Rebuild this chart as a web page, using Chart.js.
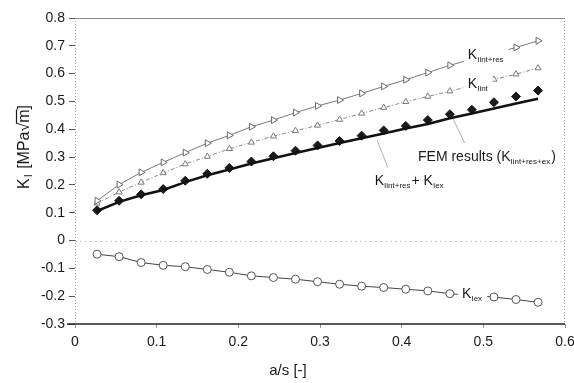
<!DOCTYPE html>
<html>
<head>
<meta charset="utf-8">
<script src="https://cdn.jsdelivr.net/npm/chart.js@4/dist/chart.umd.min.js"></script>
<style>
  html, body { margin: 0; padding: 0; background: #fff; }
  #wrap { width: 574px; height: 383px; }
</style>
</head>
<body>
<div id="wrap"><canvas id="c" width="574" height="383"></canvas></div>
<script>
// crack depth ratio a/s
const aOverS = [0.027, 0.054, 0.081, 0.108, 0.135, 0.162, 0.189, 0.216, 0.243, 0.270, 0.297,
                0.324, 0.351, 0.378, 0.405, 0.432, 0.459, 0.486, 0.513, 0.540, 0.567];

// stress intensity factors K_I [MPa·sqrt(m)]
const kIntRes = [0.143, 0.201, 0.245, 0.281, 0.316, 0.350, 0.378, 0.409, 0.433, 0.460, 0.484,
                 0.505, 0.529, 0.554, 0.578, 0.604, 0.630, 0.652, 0.673, 0.694, 0.718];
const kInt    = [0.134, 0.174, 0.209, 0.243, 0.275, 0.302, 0.330, 0.353, 0.375, 0.395, 0.414,
                 0.435, 0.457, 0.478, 0.499, 0.518, 0.537, 0.557, 0.579, 0.598, 0.620];
const kFem    = [0.109, 0.143, 0.166, 0.185, 0.215, 0.240, 0.261, 0.284, 0.303, 0.323, 0.342,
                 0.358, 0.377, 0.396, 0.412, 0.433, 0.454, 0.470, 0.497, 0.518, 0.539];
const kSum    = [0.106, 0.139, 0.163, 0.182, 0.210, 0.235, 0.255, 0.277, 0.296, 0.315, 0.333,
                 0.351, 0.368, 0.385, 0.403, 0.419, 0.440, 0.457, 0.475, 0.493, 0.510];
const kEx     = [-0.049, -0.058, -0.079, -0.089, -0.094, -0.104, -0.114, -0.127, -0.133, -0.139, -0.148,
                 -0.157, -0.164, -0.169, -0.175, -0.181, -0.191, -0.197, -0.203, -0.212, -0.222];

// axis ticks
const xTicks = [0, 0.1, 0.2, 0.3, 0.4, 0.5, 0.6];
const yTicks = [0.8, 0.7, 0.6, 0.5, 0.4, 0.3, 0.2, 0.1, 0, -0.1, -0.2, -0.3];

const pts = ys => aOverS.map((x, i) => ({ x, y: ys[i] }));
const FONT = '"Liberation Sans", Arial, sans-serif';

// curve labels: text runs [text, isSubscript], anchored in data coordinates;
// "mask" labels sit on top of their curve and blank it out underneath
const curveLabels = [
  { x: 0.481, y: 0.654, mask: true, runs: [['K', false], ['Iint+res', true]] },
  { x: 0.481, y: 0.549, mask: true, runs: [['K', false], ['Iint', true]] },
  { x: 0.420, y: 0.287, mask: false, runs: [['FEM results (K', false], ['Iint+res+ex', true], [')', false]] },
  { x: 0.367, y: 0.201, mask: false, runs: [['K', false], ['Iint+res', true], ['+ K', false], ['Iex', true]] },
  { x: 0.474, y: -0.208, mask: true, runs: [['K', false], ['Iex', true]] }
];
const leaders = [
  [0.463, 0.437, 0.477, 0.351],
  [0.370, 0.360, 0.383, 0.263]
];
const LBL = 14, SUB = 8;

function runsWidth(ctx, runs) {
  let w = 0;
  for (const [t, sub] of runs) {
    ctx.font = (sub ? SUB : LBL) + 'px ' + FONT;
    w += ctx.measureText(t).width + (sub ? 1 : 0);
  }
  return w;
}

function drawRuns(ctx, x, y, runs) {
  ctx.textBaseline = 'alphabetic';
  ctx.textAlign = 'left';
  let cx = x;
  for (const [t, sub] of runs) {
    ctx.font = (sub ? SUB : LBL) + 'px ' + FONT;
    ctx.fillText(t, cx, sub ? y + 3 : y);
    cx += ctx.measureText(t).width + (sub ? 1 : 0);
  }
}

const decor = {
  id: 'decor',
  beforeDraw(chart) {
    const { ctx, chartArea: a } = chart;
    ctx.save();
    ctx.fillStyle = '#fff';
    ctx.fillRect(0, 0, chart.width, chart.height);
    const ys = chart.scales.y;
    // zero line
    ctx.strokeStyle = '#c8c8c8';
    ctx.lineWidth = 1;
    ctx.setLineDash([2, 3]);
    const y0 = Math.round(ys.getPixelForValue(0)) + 0.5;
    ctx.beginPath(); ctx.moveTo(a.left, y0); ctx.lineTo(a.right, y0); ctx.stroke();
    // left and right frame (dotted)
    ctx.strokeStyle = '#9a9a9a';
    ctx.setLineDash([1, 2]);
    ctx.beginPath();
    ctx.moveTo(a.left + 0.5, a.top); ctx.lineTo(a.left + 0.5, a.bottom);
    ctx.moveTo(a.right - 0.5, a.top); ctx.lineTo(a.right - 0.5, a.bottom);
    ctx.stroke();
    // top frame
    ctx.setLineDash([]);
    ctx.strokeStyle = '#8a8a8a';
    ctx.beginPath(); ctx.moveTo(a.left, a.top + 0.5); ctx.lineTo(a.right, a.top + 0.5); ctx.stroke();
    ctx.restore();
  },
  afterDraw(chart) {
    const { ctx, chartArea: a } = chart;
    const xs = chart.scales.x, ys = chart.scales.y;
    ctx.save();
    // bottom axis line
    ctx.strokeStyle = '#222';
    ctx.lineWidth = 1.6;
    ctx.beginPath(); ctx.moveTo(a.left - 8, a.bottom); ctx.lineTo(a.right, a.bottom); ctx.stroke();
    // leader lines
    ctx.strokeStyle = '#9a9a9a';
    ctx.lineWidth = 0.8;
    for (const [x1, y1, x2, y2] of leaders) {
      ctx.beginPath();
      ctx.moveTo(xs.getPixelForValue(x1), ys.getPixelForValue(y1));
      ctx.lineTo(xs.getPixelForValue(x2), ys.getPixelForValue(y2));
      ctx.stroke();
    }
    // curve labels
    for (const l of curveLabels) {
      const px = xs.getPixelForValue(l.x), py = ys.getPixelForValue(l.y);
      if (l.mask) {
        const w = runsWidth(ctx, l.runs);
        ctx.fillStyle = '#fff';
        ctx.fillRect(px - 4, py - 14, w + 8, 20);
      }
      ctx.fillStyle = '#1a1a1a';
      drawRuns(ctx, px, py, l.runs);
    }
    // x-axis title
    ctx.fillStyle = '#1a1a1a';
    ctx.font = '15px ' + FONT;
    ctx.textAlign = 'center';
    ctx.textBaseline = 'middle';
    ctx.fillText('a/s [-]', 288, 371);
    // y-axis title, rotated: K_I [MPa√m] with overbar on m
    ctx.translate(25, 147);
    ctx.rotate(-Math.PI / 2);
    ctx.textBaseline = 'middle';
    ctx.textAlign = 'left';
    const size = 16;
    const parts = [['K', false], ['I', true], [' [MPa', false], ['\u221A', false]];
    let w = 0;
    const widths = [];
    for (const [t, sub] of parts) {
      ctx.font = (sub ? 11 : size) + 'px ' + FONT;
      const m = ctx.measureText(t).width + (sub ? 2 : 0);
      widths.push(m); w += m;
    }
    ctx.font = size + 'px ' + FONT;
    const mW = ctx.measureText('m').width;
    const brW = ctx.measureText(']').width;
    w += mW + brW;
    let cx = -w / 2;
    parts.forEach(([t, sub], i) => {
      ctx.font = (sub ? 11 : size) + 'px ' + FONT;
      ctx.fillText(t, cx + (sub ? 1 : 0), sub ? 4 : 0);
      cx += widths[i];
    });
    ctx.font = size + 'px ' + FONT;
    ctx.fillText('m', cx, 0);
    ctx.lineWidth = 1.2;
    ctx.strokeStyle = '#1a1a1a';
    ctx.beginPath(); ctx.moveTo(cx - 1, -8.5); ctx.lineTo(cx + mW, -8.5); ctx.stroke();
    cx += mW;
    ctx.fillText(']', cx, 0);
    ctx.restore();
  }
};

new Chart(document.getElementById('c'), {
  type: 'line',
  data: {
    datasets: [
      {
        label: 'K Iint+res',
        data: pts(kIntRes),
        borderColor: '#7a7a7a', borderWidth: 1,
        pointStyle: 'triangle', rotation: 90, pointRadius: 4,
        pointBackgroundColor: '#fff', pointBorderColor: '#6a6a6a', pointBorderWidth: 1
      },
      {
        label: 'K Iint',
        data: pts(kInt),
        borderColor: '#8a8a8a', borderWidth: 1, borderDash: [4, 2, 1, 2],
        pointStyle: 'triangle', pointRadius: 3.5,
        pointBackgroundColor: '#fff', pointBorderColor: '#7a7a7a', pointBorderWidth: 1
      },
      {
        label: 'K Iint+res + K Iex',
        data: pts(kSum),
        borderColor: '#111', borderWidth: 2.6,
        pointRadius: 0
      },
      {
        label: 'FEM results',
        data: pts(kFem),
        showLine: false,
        pointStyle: 'rectRot', pointRadius: 4.5,
        pointBackgroundColor: '#1a1a1a', pointBorderColor: '#1a1a1a'
      },
      {
        label: 'K Iex',
        data: pts(kEx),
        borderColor: '#444', borderWidth: 1,
        pointStyle: 'circle', pointRadius: 4,
        pointBackgroundColor: '#fff', pointBorderColor: '#555', pointBorderWidth: 1
      }
    ]
  },
  options: {
    responsive: false,
    animation: false,
    layout: { padding: { top: 18, right: 9, left: 0, bottom: 0 } },
    plugins: { legend: { display: false }, tooltip: { enabled: false } },
    elements: { line: { tension: 0 } },
    scales: {
      x: {
        type: 'linear', min: 0, max: 0.6,
        afterBuildTicks: s => { s.ticks = xTicks.map(v => ({ value: v })); },
        afterFit: s => { s.height = 59; s.paddingLeft = 0; s.paddingRight = 0; },
        border: { display: false },
        grid: { drawOnChartArea: false, drawTicks: true, tickLength: 4, color: '#999' },
        ticks: {
          color: '#1a1a1a', padding: 6, maxRotation: 0,
          font: { family: FONT, size: 14 },
          callback: v => (v === 0 ? '0' : v.toFixed(1))
        }
      },
      y: {
        type: 'linear', min: -0.3, max: 0.8,
        afterBuildTicks: s => { s.ticks = yTicks.map(v => ({ value: v })); },
        afterFit: s => { s.width = 75; s.paddingTop = 0; s.paddingBottom = 0; },
        border: { display: false },
        grid: { drawOnChartArea: false, drawTicks: true, tickLength: 6, color: '#555' },
        ticks: {
          color: '#1a1a1a', padding: 4,
          font: { family: FONT, size: 14 },
          callback: v => (Math.abs(v) < 1e-9 ? '0' : v.toFixed(1))
        }
      }
    }
  },
  plugins: [decor]
});
</script>
</body>
</html>
